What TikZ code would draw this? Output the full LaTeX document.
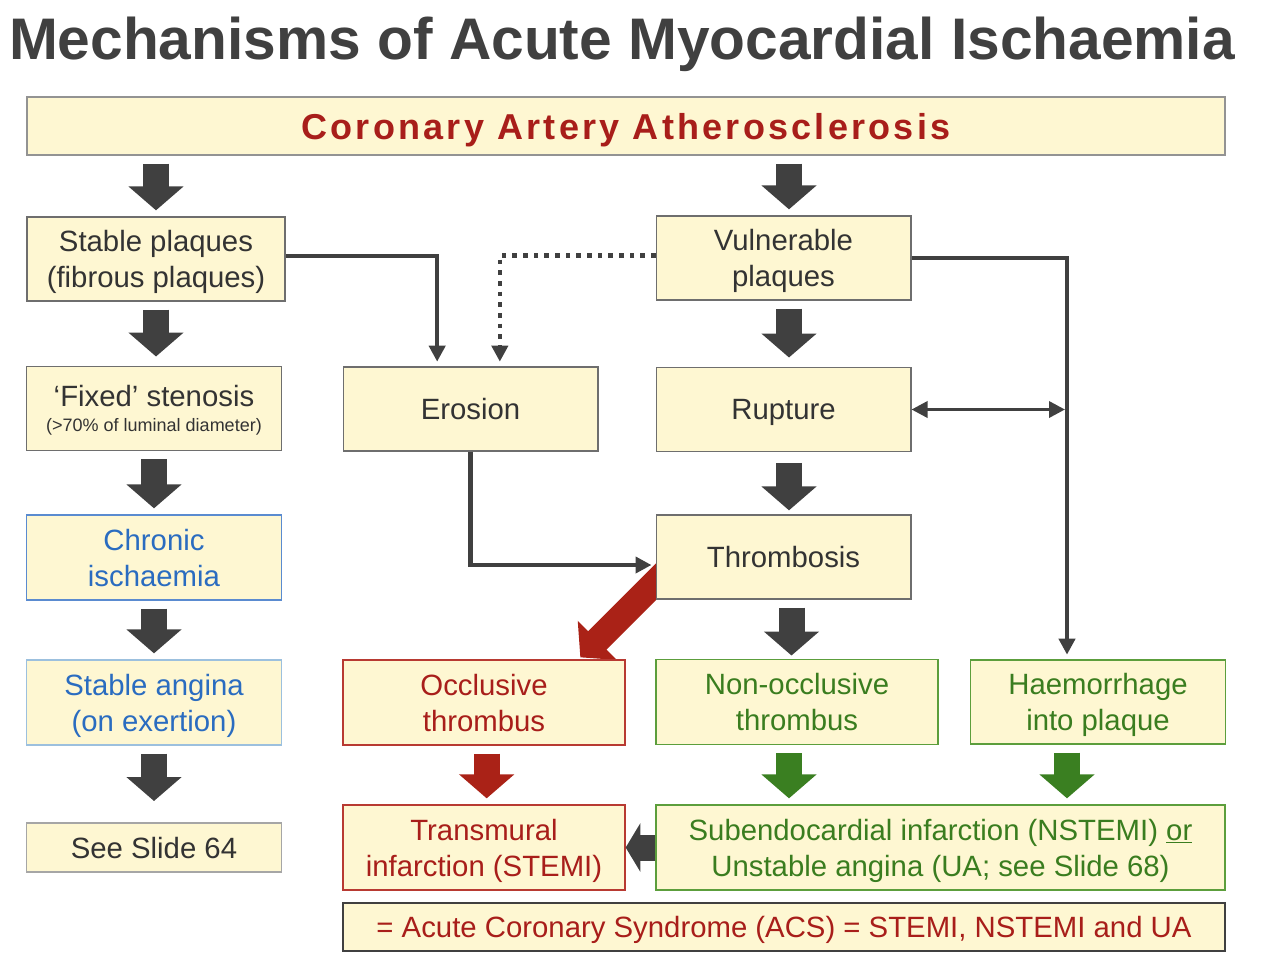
\documentclass[tikz,border=0pt]{standalone}
\usepackage{fontspec}
\setmainfont{Liberation Sans}
\newfontfamily\spacedfont[LetterSpace=9]{Liberation Sans}
\usetikzlibrary{arrows.meta}
\usetikzlibrary{backgrounds}

\definecolor{ink}{HTML}{404040}
\definecolor{textgray}{HTML}{333333}
\definecolor{boxfill}{HTML}{FEF7D2}
\definecolor{boxgray}{HTML}{6E6E6E}
\definecolor{redtext}{HTML}{A81E1A}
\definecolor{redline}{HTML}{B83A32}
\definecolor{redarrow}{HTML}{AA2217}
\definecolor{greentext}{HTML}{3A7D1F}
\definecolor{greenline}{HTML}{5C9E3C}
\definecolor{greenarrow}{HTML}{3A7F21}
\definecolor{bluetext}{HTML}{2A6CC0}
\definecolor{blueline}{HTML}{5A8BD0}
\definecolor{bluepale}{HTML}{9CC0DE}

\begin{document}
\begin{tikzpicture}[x=0.75pt, y=-0.75pt,
    every node/.style={font=\fontsize{22}{27}\selectfont, text=textgray},
    box/.style={draw=boxgray, fill=boxfill, line width=1pt, align=center, inner sep=0pt, text depth=0pt},
    redbox/.style={box, draw=redline, text=redtext},
    greenbox/.style={box, draw=greenline, text=greentext},
    bluebox/.style={box, draw=blueline, text=bluetext},
    small/.style={minimum width=191pt, minimum height=63pt},
    wide/.style={minimum width=211.5pt, minimum height=63.75pt},
    fat/.style={draw=#1, line width=19.5pt, -{Triangle[width=40.5pt,length=18pt]}, shorten <=6pt, shorten >=4.5pt},
    fat/.default=ink,
    link/.style={draw=ink, line width=3.2pt, -{Triangle[width=12pt,length=12pt]}}
]
\useasboundingbox (0,0) rectangle (1270,958);

% --- TITLE ---
\node[font=\bfseries\fontsize{44}{50}\selectfont, text=ink, anchor=base] (title) at (622,59) {Mechanisms of Acute Myocardial Ischaemia};

% --- TOP BAND ---
\node[box, minimum width=898.5pt, minimum height=43.5pt, draw=gray!85, text=redtext,
      font=\spacedfont\bfseries\fontsize{27}{30}\selectfont] (ath) at (626,126) {Coronary Artery Atherosclerosis};

% --- LEFT COLUMN: stable route ---
\node[box, small, minimum width=193.5pt] (stab) at (156,259) {Stable plaques\\(fibrous plaques)};
\node[box, small] (fixed) at (154,408.5) {‘Fixed’ stenosis\\[-8pt]{\fontsize{13.5}{16}\selectfont (>70\% of luminal diameter)}};
\node[bluebox, small, minimum height=63.75pt] (chronic) at (154,557.5) {Chronic\\ischaemia};
\node[bluebox, small, minimum height=63.75pt, draw=bluepale] (angina) at (154,702.5) {Stable angina\\(on exertion)};
\node[box, small, minimum height=36.75pt, draw=gray!70] (slide) at (154,847.5) {See Slide 64};

% --- MIDDLE / RIGHT: acute route ---
\node[box, small] (erosion) at (470.5,409) {Erosion};
\node[box, small] (vuln) at (783.5,258) {Vulnerable\\plaques};
\node[box, small] (rupture) at (783.5,409.5) {Rupture};
\node[box, small] (thromb) at (783.5,557) {Thrombosis};
\node[redbox, wide] (occl) at (484,702.5) {Occlusive\\thrombus};
\node[greenbox, wide] (nonoccl) at (797,702) {Non-occlusive\\thrombus};
\node[greenbox, small] (haem) at (1098,702) {Haemorrhage\\into plaque};
\node[redbox, wide] (stemi) at (484,847.5) {Transmural\\infarction (STEMI)};
\node[greenbox, minimum width=426.75pt, minimum height=63.75pt] (nstemi) at (940.5,847.5) {Subendocardial infarction (NSTEMI) \underline{or}\\Unstable angina (UA; see Slide 68)};
\node[box, minimum width=661.5pt, minimum height=36pt, draw=ink, text=redtext] (acs) at (784,927) {= Acute Coronary Syndrome (ACS) = STEMI, NSTEMI and UA};

\coordinate (vx) at (789,0);
\coordinate (hx) at (1067,0);
\coordinate (otip) at ([xshift=178.5pt,yshift=1.5pt]occl.north west);

% --- BLOCK ARROWS ---
\draw[fat] (ath.south -| stab.north) -- (stab.north);
\draw[fat] (vx |- ath.south) -- (vx |- vuln.north);
\draw[fat, shorten >=7pt] (stab.south) -- (stab.south |- fixed.north);
\draw[fat] (fixed.south) -- (fixed.south |- chronic.north);
\draw[fat] (chronic.south) -- (chronic.south |- angina.north);
\draw[fat, shorten >=16pt] (angina.south) -- (angina.south |- slide.north);
\draw[fat, shorten >=7pt] (vx |- vuln.south) -- (vx |- rupture.north);
\draw[fat, shorten <=8pt, shorten >=3pt] (vx |- rupture.south) -- (vx |- thromb.north);
\draw[fat, shorten >=2.5pt] ([xshift=6pt]thromb.south) -- ([xshift=6pt]thromb.south |- nonoccl.north);
\draw[fat=redarrow] ([xshift=2pt]occl.south) -- ([xshift=2pt]occl.south |- stemi.north);
\draw[fat=greenarrow] ([xshift=-6pt]nonoccl.south) -- ([xshift=-6pt]nonoccl.south |- nstemi.north);
\draw[fat=greenarrow] (hx |- haem.south) -- (hx |- nstemi.north);
\draw[fat, -{Triangle[width=36pt,length=11pt]}, shorten <=0pt, shorten >=0pt] (nstemi.west) -- (stemi.east);
\begin{scope}[on background layer]
  \draw[fat=redarrow, shorten <=0pt, shorten >=0pt] ([shift={(70pt,70pt)}]otip) -- (otip);
\end{scope}

% --- THIN CONNECTORS ---
\draw[link, shorten >=3.5pt] ([yshift=2pt]stab.east) -| ([xshift=-25pt]erosion.north);
\draw[link, line width=3.5pt, dash pattern=on 3.5pt off 4.5pt, shorten >=3.5pt] ([yshift=2pt]vuln.west) -| ([xshift=22pt]erosion.north);
\draw[link, shorten >=3.5pt] (vuln.east) -| (hx |- haem.north);
\draw[link, line width=2.6pt, {Triangle[width=12pt,length=12pt]}-{Triangle[width=12pt,length=12pt]}, shorten >=1.5pt] (rupture.east) -- (rupture.east -| hx);
\draw[link, shorten >=3pt] (erosion.south) |- ([yshift=-6pt]thromb.west);

\end{tikzpicture}
\end{document}
